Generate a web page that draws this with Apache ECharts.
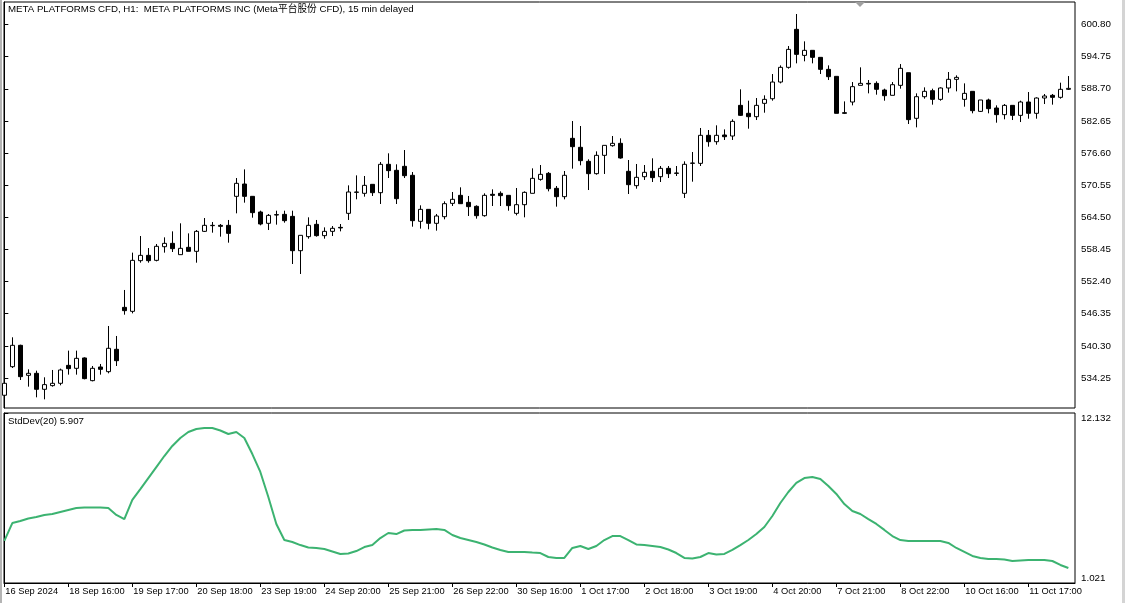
<!DOCTYPE html>
<html><head><meta charset="utf-8">
<script src="https://cdn.jsdelivr.net/npm/echarts@6/dist/echarts.min.js"></script>
<style>html,body{margin:0;padding:0;background:#fff}#c{width:1125px;height:603px}</style>
</head><body><div id="c"></div>
<script>
// ---- data ----
const opens = [531.0,536.38,540.40,534.75,535.13,532.12,532.81,533.25,536.63,536.07,538.02,533.75,536.32,535.44,539.65,547.55,546.80,556.34,557.34,556.40,
558.97,559.60,557.47,558.85,558.10,561.86,562.93,562.99,562.99,568.45,570.77,568.45,565.50,563.37,565.00,565.06,564.68,558.22,560.86,563.18,
561.05,561.86,562.61,565.25,569.20,569.02,570.71,569.14,574.48,573.35,574.10,572.41,563.75,566.00,563.37,564.62,567.13,568.64,567.32,566.57,
564.81,568.83,569.02,568.64,565.25,566.88,569.02,571.65,572.78,569.96,568.39,579.37,577.68,575.04,572.72,576.17,577.99,578.43,573.16,570.46,
572.15,573.16,572.15,573.72,572.85,569.02,574.66,574.66,579.94,578.74,580.00,579.81,585.58,584.08,583.45,585.96,586.83,589.97,592.74,599.89,
594.99,595.94,594.62,592.36,591.04,584.20,586.21,589.35,589.72,589.72,588.47,587.47,589.35,591.73,583.14,587.21,588.34,586.71,588.85,590.48,
586.71,588.22,584.45,586.59,585.08,583.83,585.58,583.70,586.21,584.08,586.96,587.47,587.09,588.60];
const closes = [533.25,540.40,534.50,535.13,532.12,533.00,533.25,535.76,536.01,537.95,534.13,536.07,535.88,539.84,537.51,546.93,556.40,557.34,556.34,559.04,
559.60,558.60,558.66,558.10,561.86,562.99,562.99,562.80,561.48,570.90,568.45,565.38,563.24,564.87,564.94,563.87,558.22,561.11,562.99,561.05,
561.86,562.43,562.50,569.27,569.27,570.52,569.14,574.48,573.29,568.01,572.34,563.87,566.00,563.37,564.75,567.07,567.89,567.07,566.51,564.81,
568.64,568.64,568.58,566.70,566.88,569.20,571.84,572.59,569.89,568.39,572.41,577.80,575.17,572.72,576.17,578.05,578.43,575.67,570.65,572.03,
572.97,571.97,573.72,572.72,572.78,574.48,574.73,579.94,578.74,579.94,579.68,582.57,583.70,583.45,585.58,586.71,589.97,592.74,596.12,595.18,
595.94,594.62,592.36,590.98,584.08,584.08,589.10,589.72,589.60,588.60,587.40,589.47,592.55,582.89,587.21,588.22,586.71,588.85,590.48,590.85,
587.84,584.58,586.59,584.96,583.83,585.58,583.70,586.21,584.08,586.96,587.34,587.09,588.60,588.78];
const lows = [530.8,536.13,533.87,532.62,530.61,530.23,532.62,532.87,534.88,534.88,534.00,533.62,534.88,535.13,536.51,546.17,546.42,555.96,555.96,556.21,
557.85,557.97,557.47,558.10,555.96,561.74,561.61,560.86,559.73,565.25,567.26,564.43,562.99,562.11,563.12,563.49,555.71,553.83,560.48,560.86,
560.48,560.98,561.86,564.00,567.89,568.39,568.52,567.01,571.90,567.01,571.90,562.74,562.37,562.24,561.99,564.12,566.63,567.01,564.75,564.25,
564.62,566.63,566.63,565.75,564.87,564.50,569.02,571.40,569.39,566.51,567.89,573.66,574.29,569.64,572.53,572.66,577.80,575.54,568.89,569.89,
571.53,571.15,571.15,571.90,572.28,568.14,571.21,574.16,577.80,578.18,579.06,579.06,583.58,581.19,582.82,584.20,586.46,589.72,592.49,593.49,
593.87,593.49,591.48,590.35,584.08,583.95,585.58,589.35,587.84,587.59,586.46,587.47,588.72,582.07,581.44,586.84,585.71,586.46,587.97,588.22,
585.33,584.08,584.33,584.08,582.32,582.95,582.82,582.44,583.07,583.07,585.83,585.71,586.84,588.47];
const highs = [533.5,541.91,540.52,535.88,535.63,534.38,535.76,536.01,539.40,539.40,538.14,536.51,536.89,544.04,542.16,550.82,557.85,560.98,558.72,559.48,
560.73,561.86,563.37,561.48,562.11,564.37,563.62,563.24,564.00,571.90,573.53,568.50,565.75,565.12,565.75,565.75,565.75,561.11,564.50,564.00,
562.61,562.86,563.24,570.52,572.40,572.28,570.71,574.92,576.55,574.48,577.17,573.03,566.76,566.00,565.13,567.51,569.27,570.15,568.52,566.76,
569.02,569.77,569.39,568.64,570.02,569.39,573.72,574.35,573.03,570.40,573.22,582.63,581.69,575.42,576.92,578.05,579.81,579.37,575.29,574.54,
574.35,575.61,574.16,574.16,574.16,575.04,576.80,581.32,580.94,581.82,581.06,582.95,588.60,586.46,586.96,587.47,591.48,593.11,596.75,602.78,
597.63,595.94,594.62,593.11,591.04,586.33,589.97,592.74,590.35,590.10,588.72,589.97,593.36,591.73,587.84,588.97,588.72,588.97,591.86,591.23,
589.72,588.22,586.59,586.84,585.58,585.83,585.58,586.46,588.09,587.09,587.72,587.72,589.85,591.10];
const stdDev = [3.77,4.94,5.07,5.24,5.33,5.47,5.53,5.66,5.79,5.92,5.96,5.96,5.96,5.92,5.47,5.20,6.45,7.16,7.88,8.60,
9.32,9.98,10.50,10.89,11.09,11.15,11.15,10.99,10.76,10.89,10.50,9.45,8.28,6.64,4.88,3.83,3.70,3.50,3.34,3.31,
3.24,3.08,2.92,2.95,3.11,3.37,3.50,3.96,4.29,4.22,4.45,4.49,4.49,4.52,4.55,4.49,4.16,3.96,3.83,3.70,
3.54,3.34,3.18,3.05,3.05,3.05,3.01,2.98,2.72,2.66,2.66,3.31,3.44,3.24,3.44,3.83,4.09,4.09,3.83,3.54,
3.50,3.44,3.37,3.21,2.98,2.66,2.62,2.72,2.98,2.88,2.92,3.18,3.50,3.83,4.22,4.68,5.40,6.25,6.97,7.56,
7.88,7.95,7.82,7.36,6.84,6.18,5.73,5.53,5.20,4.88,4.49,4.09,3.83,3.77,3.77,3.77,3.77,3.77,3.64,3.31,
3.05,2.79,2.66,2.59,2.59,2.56,2.46,2.49,2.52,2.52,2.52,2.46,2.20,2.00];
const timeLabels = ['16 Sep 2024','18 Sep 16:00','19 Sep 17:00','20 Sep 18:00','23 Sep 19:00','24 Sep 20:00','25 Sep 21:00','26 Sep 22:00','30 Sep 16:00',
'1 Oct 17:00','2 Oct 18:00','3 Oct 19:00','4 Oct 20:00','7 Oct 21:00','8 Oct 22:00','10 Oct 16:00','11 Oct 17:00'];
const timeLabelBars = [0,8,16,24,32,40,48,56,64,72,80,88,96,104,112,120,128];
const priceTicks = [534.25,540.30,546.35,552.40,558.45,564.50,570.55,576.60,582.65,588.70,594.75,600.80];
const stdTicks = [1.021,12.132];
const chartTitle = 'META PLATFORMS CFD, H1:  META PLATFORMS INC (Meta平台股份 CFD), 15 min delayed';
const indicatorTitle = 'StdDev(20) 5.907';

// ---- chart ----
const FONT = "'Liberation Sans', 'Noto Sans CJK SC', sans-serif";
const candleData = opens.map((o, i) => [i, o, closes[i], lows[i], highs[i]]);
const stdData = stdDev.map((v, i) => [i, v]);
const xMin = -0.04, xMax = 133.83;

const chart = echarts.init(document.getElementById('c'), null, {renderer: 'canvas'});
chart.setOption({
  animation: false,
  backgroundColor: '#fff',
  title: [
    {text: chartTitle, left: 8, top: 4, padding: 0, textStyle: {fontFamily: FONT, fontSize: 9.7, fontWeight: 'normal', color: '#000'}},
    {text: indicatorTitle, left: 8, top: 416, padding: 0, textStyle: {fontFamily: FONT, fontSize: 9.7, fontWeight: 'normal', color: '#000'}}
  ],
  grid: [
    {left: 4, top: 2, width: 1071, height: 406, show: true, borderColor: '#000', borderWidth: 1, backgroundColor: 'transparent'},
    {left: 4, top: 413, width: 1071, height: 170, show: true, borderColor: '#000', borderWidth: 1, backgroundColor: 'transparent'}
  ],
  xAxis: [
    {type: 'value', gridIndex: 0, min: xMin, max: xMax, show: false, splitLine: {show: false}},
    {type: 'value', gridIndex: 1, min: xMin, max: xMax, splitLine: {show: false},
     axisLine: {show: true, lineStyle: {color: '#000'}},
     axisTick: {show: true, length: 4, customValues: timeLabelBars, lineStyle: {color: '#000'}},
     axisLabel: {show: true, customValues: timeLabelBars, align: 'left', margin: 4, padding: [0,0,0,1],
       fontFamily: FONT, fontSize: 9.3, color: '#000',
       formatter: v => timeLabels[timeLabelBars.indexOf(Math.round(v))] || ''}}
  ],
  yAxis: [
    {type: 'value', gridIndex: 0, position: 'right', min: 528.6, max: 605.04, scale: true,
     splitLine: {show: false},
     axisLine: {show: true, lineStyle: {color: '#000'}},
     axisTick: {show: true, length: 4, customValues: priceTicks, lineStyle: {color: '#000'}},
     axisLabel: {show: true, customValues: priceTicks, margin: 6, padding: [3,0,0,0], fontFamily: FONT, fontSize: 9.8, color: '#000',
       formatter: v => v.toFixed(2)}},
    {type: 'value', gridIndex: 1, position: 'right', min: 1.021, max: 12.132,
     splitLine: {show: false},
     axisLine: {show: true, lineStyle: {color: '#000'}},
     axisTick: {show: true, length: 4, customValues: stdTicks, lineStyle: {color: '#000'}},
     axisLabel: {show: true, customValues: stdTicks, margin: 6, fontFamily: FONT, fontSize: 9.8, color: '#000',
       formatter: v => v > 6 ? '{hi|' + v.toFixed(3) + '}' : '{lo|' + v.toFixed(3) + '}',
       rich: {hi: {padding: [10,0,0,0], fontFamily: FONT, fontSize: 9.8, color: '#000'},
              lo: {padding: [0,0,10,0], fontFamily: FONT, fontSize: 9.8, color: '#000'}}}}
  ],
  series: [
    {type: 'candlestick', xAxisIndex: 0, yAxisIndex: 0, data: candleData,
     dimensions: ['idx', 'open', 'close', 'lowest', 'highest'],
     encode: {x: 'idx', y: ['open', 'close', 'lowest', 'highest']},
     barWidth: 4, clip: true,
     itemStyle: {color: '#fff', color0: '#000', borderColor: '#000', borderColor0: '#000', borderWidth: 1}},
    {type: 'line', xAxisIndex: 1, yAxisIndex: 1, data: stdData, symbol: 'none', clip: true,
     lineStyle: {color: '#3cb371', width: 2}}
  ],
  graphic: [
    {type: 'rect', shape: {x: 0, y: 0, width: 2, height: 603}, style: {fill: '#b4b4b4'}, silent: true},
    {type: 'rect', shape: {x: 1122, y: 0, width: 3, height: 603}, style: {fill: '#d4d4d4'}, silent: true},
    {type: 'polygon', shape: {points: [[855, 2], [865, 2], [860, 7]]}, style: {fill: '#a0a0a0'}, silent: true}
  ]
});
</script></body></html>
